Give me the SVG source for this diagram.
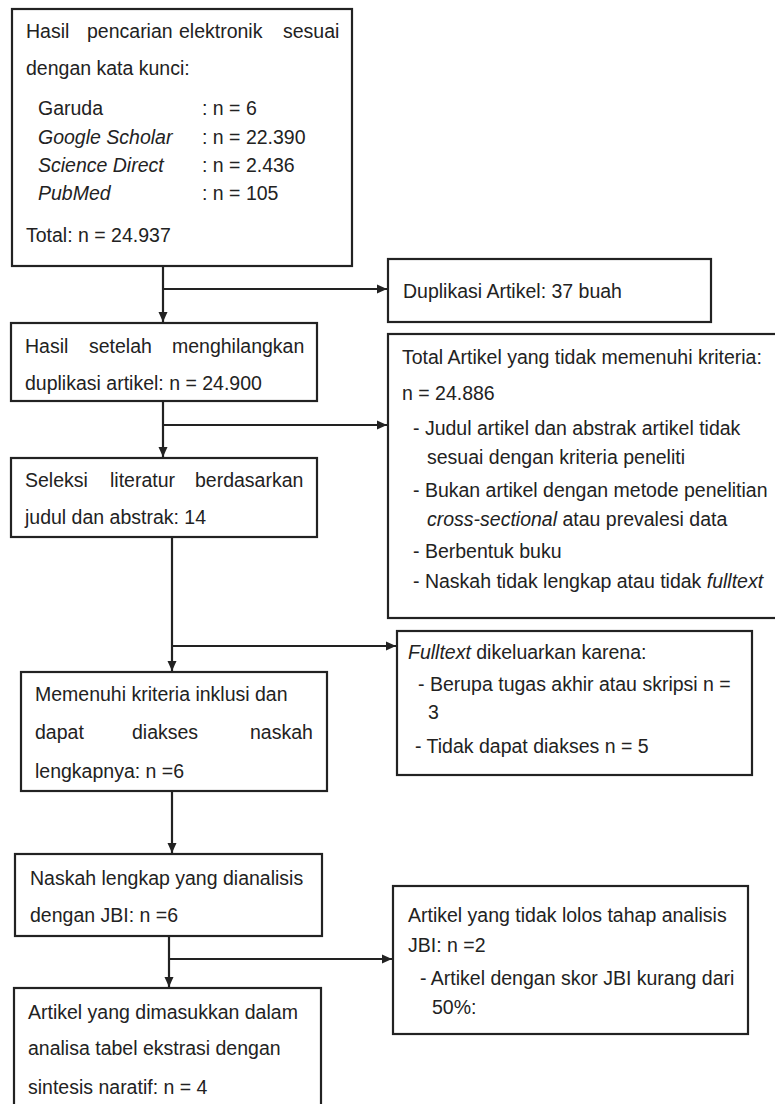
<svg xmlns="http://www.w3.org/2000/svg" width="775" height="1104" viewBox="0 0 775 1104">
<style>
.box{fill:#fff;stroke:#222;stroke-width:2.2}
.t{font-family:"Liberation Sans",Arial,sans-serif;font-size:19.5px;fill:#222}
.i{font-style:italic}
.c{fill:none;stroke:#222;stroke-width:2.2}
</style>
<defs>
<marker id="ah" markerUnits="userSpaceOnUse" markerWidth="12" markerHeight="12" refX="11" refY="6" orient="auto">
<path d="M1,1.5 L11,6 L1,10.5 z" fill="#222"/>
</marker>
</defs>
<rect width="775" height="1104" fill="#fff"/>
<g id="connectors">
<path class="c" d="M163,266 V322" marker-end="url(#ah)"/>
<path class="c" d="M163,289 H387" marker-end="url(#ah)"/>
<path class="c" d="M163,401 V457" marker-end="url(#ah)"/>
<path class="c" d="M163,425 H387" marker-end="url(#ah)"/>
<path class="c" d="M172,537 V671" marker-end="url(#ah)"/>
<path class="c" d="M172,646 H396" marker-end="url(#ah)"/>
<path class="c" d="M172,791 V853" marker-end="url(#ah)"/>
<path class="c" d="M169,936 V987" marker-end="url(#ah)"/>
<path class="c" d="M169,959 H392" marker-end="url(#ah)"/>
</g>
<g id="n1">
<rect class="box" x="12" y="9" width="340" height="257"/>
<text class="t" y="38"><tspan x="26">Hasil</tspan><tspan x="87">pencarian</tspan><tspan x="179">elektronik</tspan><tspan x="283">sesuai</tspan></text>
<text class="t" x="26" y="75">dengan kata kunci:</text>
<text class="t" x="38" y="115">Garuda</text><text class="t" x="202" y="115">: n = 6</text>
<text class="t i" x="38" y="144">Google Scholar</text><text class="t" x="202" y="144">: n = 22.390</text>
<text class="t i" x="38" y="172">Science Direct</text><text class="t" x="202" y="172">: n = 2.436</text>
<text class="t i" x="38" y="200">PubMed</text><text class="t" x="202" y="200">: n = 105</text>
<text class="t" x="26" y="242">Total: n = 24.937</text>
</g>
<g id="n2">
<rect class="box" x="388" y="259" width="323" height="63"/>
<text class="t" x="403" y="298">Duplikasi Artikel: 37 buah</text>
</g>
<g id="n3">
<rect class="box" x="11" y="323" width="306" height="78"/>
<text class="t" y="353"><tspan x="25">Hasil</tspan><tspan x="89">setelah</tspan><tspan x="172">menghilangkan</tspan></text>
<text class="t" x="25" y="390">duplikasi artikel: n = 24.900</text>
</g>
<g id="n4">
<rect class="box" x="388" y="334" width="390" height="284"/>
<text class="t" x="402" y="364">Total Artikel yang tidak memenuhi kriteria:</text>
<text class="t" x="402" y="400">n = 24.886</text>
<text class="t" x="413" y="435">- Judul artikel dan abstrak artikel tidak</text>
<text class="t" x="427" y="464">sesuai dengan kriteria peneliti</text>
<text class="t" x="413" y="497">- Bukan artikel dengan metode penelitian</text>
<text class="t" x="427" y="526"><tspan class="i">cross-sectional</tspan> atau prevalesi data</text>
<text class="t" x="413" y="558">- Berbentuk buku</text>
<text class="t" x="413" y="588">- Naskah tidak lengkap atau tidak <tspan class="i">fulltext</tspan></text>
</g>
<g id="n5">
<rect class="box" x="11" y="458" width="306" height="79"/>
<text class="t" y="487"><tspan x="25">Seleksi</tspan><tspan x="110">literatur</tspan><tspan x="195">berdasarkan</tspan></text>
<text class="t" x="25" y="524">judul dan abstrak: 14</text>
</g>
<g id="n6">
<rect class="box" x="397" y="631" width="355" height="144"/>
<text class="t" x="408" y="659"><tspan class="i">Fulltext</tspan> dikeluarkan karena:</text>
<text class="t" x="418" y="691">- Berupa tugas akhir atau skripsi n =</text>
<text class="t" x="428" y="719">3</text>
<text class="t" x="415" y="753">- Tidak dapat diakses n = 5</text>
</g>
<g id="n7">
<rect class="box" x="21" y="672" width="306" height="119"/>
<text class="t" x="35" y="701">Memenuhi kriteria inklusi dan</text>
<text class="t" y="739"><tspan x="35">dapat</tspan><tspan x="132">diakses</tspan><tspan x="250">naskah</tspan></text>
<text class="t" x="35" y="778">lengkapnya: n =6</text>
</g>
<g id="n8">
<rect class="box" x="15" y="854" width="307" height="82"/>
<text class="t" x="30" y="885">Naskah lengkap yang dianalisis</text>
<text class="t" x="30" y="922">dengan JBI: n =6</text>
</g>
<g id="n9">
<rect class="box" x="393" y="886" width="355" height="148"/>
<text class="t" x="408" y="922">Artikel yang tidak lolos tahap analisis</text>
<text class="t" x="408" y="952">JBI: n =2</text>
<text class="t" x="420" y="985">- Artikel dengan skor JBI kurang dari</text>
<text class="t" x="432" y="1014">50%:</text>
</g>
<g id="n10">
<rect class="box" x="14" y="988" width="307" height="120"/>
<text class="t" x="28" y="1019">Artikel yang dimasukkan dalam</text>
<text class="t" x="28" y="1055">analisa tabel ekstrasi dengan</text>
<text class="t" x="28" y="1094">sintesis naratif: n = 4</text>
</g>
</svg>
